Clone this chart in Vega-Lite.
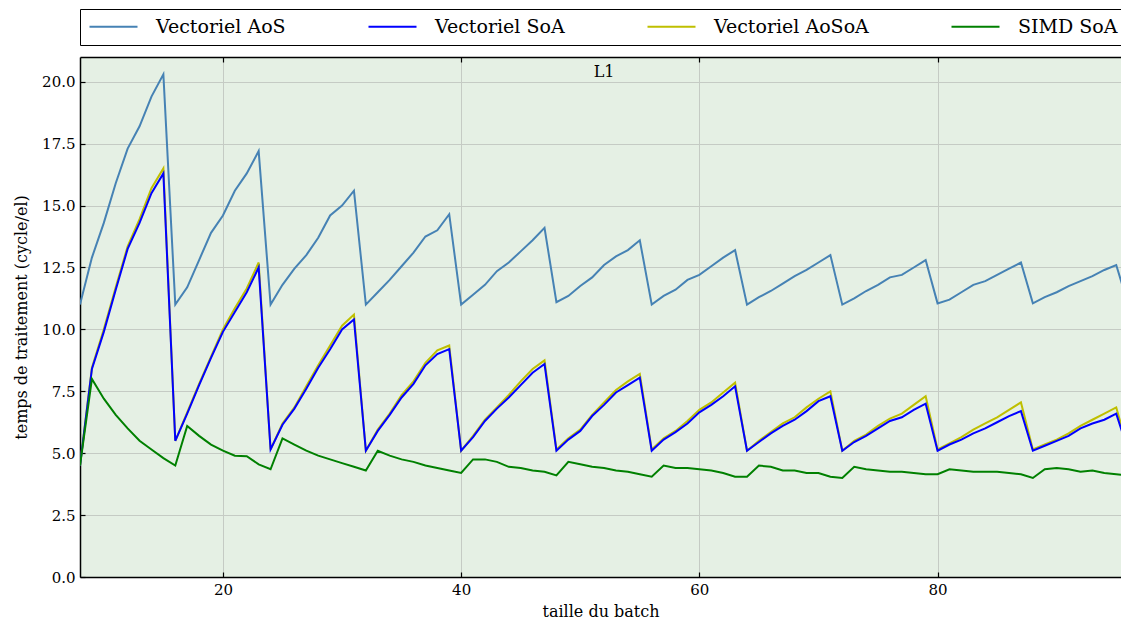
{
  "$schema": "https://vega.github.io/schema/vega-lite/v6.json",
  "width": 1041,
  "height": 520,
  "autosize": "none",
  "padding": {"left": 80, "top": 57, "right": 0, "bottom": 50},
  "background": "white",
  "config": {
    "view": {"stroke": null, "fill": "#e5f0e4"},
    "font": "DejaVu Serif",
    "axis": {
      "domainColor": "black", "domainWidth": 1.5,
      "tickColor": "black", "tickWidth": 1.2, "tickSize": -5,
      "gridColor": "#c5cbc4", "gridWidth": 1,
      "labelFont": "DejaVu Serif", "labelFontSize": 15, "labelColor": "black",
      "titleFont": "DejaVu Serif", "titleFontSize": 16, "titleFontWeight": "normal", "titleColor": "black"
    }
  },
  "datasets": {
    "d": [
      {"b":8,"Vectoriel AoS":11.0,"Vectoriel SoA":4.5,"Vectoriel AoSoA":4.5,"SIMD SoA":4.5},
      {"b":9,"Vectoriel AoS":12.9,"Vectoriel SoA":8.4,"Vectoriel AoSoA":8.45,"SIMD SoA":8.0},
      {"b":10,"Vectoriel AoS":14.3,"Vectoriel SoA":9.9,"Vectoriel AoSoA":10.0,"SIMD SoA":7.2},
      {"b":11,"Vectoriel AoS":15.9,"Vectoriel SoA":11.6,"Vectoriel AoSoA":11.7,"SIMD SoA":6.55},
      {"b":12,"Vectoriel AoS":17.3,"Vectoriel SoA":13.25,"Vectoriel AoSoA":13.35,"SIMD SoA":6.0},
      {"b":13,"Vectoriel AoS":18.2,"Vectoriel SoA":14.3,"Vectoriel AoSoA":14.45,"SIMD SoA":5.5},
      {"b":14,"Vectoriel AoS":19.4,"Vectoriel SoA":15.5,"Vectoriel AoSoA":15.7,"SIMD SoA":5.15},
      {"b":15,"Vectoriel AoS":20.3,"Vectoriel SoA":16.3,"Vectoriel AoSoA":16.5,"SIMD SoA":4.8},
      {"b":16,"Vectoriel AoS":11.0,"Vectoriel SoA":5.5,"Vectoriel AoSoA":5.5,"SIMD SoA":4.5},
      {"b":17,"Vectoriel AoS":11.7,"Vectoriel SoA":6.6,"Vectoriel AoSoA":6.65,"SIMD SoA":6.1},
      {"b":18,"Vectoriel AoS":12.8,"Vectoriel SoA":7.75,"Vectoriel AoSoA":7.8,"SIMD SoA":5.7},
      {"b":19,"Vectoriel AoS":13.9,"Vectoriel SoA":8.85,"Vectoriel AoSoA":8.9,"SIMD SoA":5.35},
      {"b":20,"Vectoriel AoS":14.6,"Vectoriel SoA":9.9,"Vectoriel AoSoA":10.0,"SIMD SoA":5.1},
      {"b":21,"Vectoriel AoS":15.6,"Vectoriel SoA":10.7,"Vectoriel AoSoA":10.85,"SIMD SoA":4.9},
      {"b":22,"Vectoriel AoS":16.3,"Vectoriel SoA":11.5,"Vectoriel AoSoA":11.65,"SIMD SoA":4.88},
      {"b":23,"Vectoriel AoS":17.2,"Vectoriel SoA":12.5,"Vectoriel AoSoA":12.7,"SIMD SoA":4.55},
      {"b":24,"Vectoriel AoS":11.0,"Vectoriel SoA":5.15,"Vectoriel AoSoA":5.15,"SIMD SoA":4.35},
      {"b":25,"Vectoriel AoS":11.8,"Vectoriel SoA":6.15,"Vectoriel AoSoA":6.2,"SIMD SoA":5.6},
      {"b":26,"Vectoriel AoS":12.45,"Vectoriel SoA":6.8,"Vectoriel AoSoA":6.85,"SIMD SoA":5.35},
      {"b":27,"Vectoriel AoS":13.0,"Vectoriel SoA":7.6,"Vectoriel AoSoA":7.7,"SIMD SoA":5.1},
      {"b":28,"Vectoriel AoS":13.7,"Vectoriel SoA":8.45,"Vectoriel AoSoA":8.55,"SIMD SoA":4.9},
      {"b":29,"Vectoriel AoS":14.6,"Vectoriel SoA":9.2,"Vectoriel AoSoA":9.35,"SIMD SoA":4.75},
      {"b":30,"Vectoriel AoS":15.0,"Vectoriel SoA":10.0,"Vectoriel AoSoA":10.15,"SIMD SoA":4.6},
      {"b":31,"Vectoriel AoS":15.6,"Vectoriel SoA":10.4,"Vectoriel AoSoA":10.6,"SIMD SoA":4.45},
      {"b":32,"Vectoriel AoS":11.0,"Vectoriel SoA":5.1,"Vectoriel AoSoA":5.1,"SIMD SoA":4.3},
      {"b":33,"Vectoriel AoS":11.5,"Vectoriel SoA":5.9,"Vectoriel AoSoA":5.95,"SIMD SoA":5.1},
      {"b":34,"Vectoriel AoS":12.0,"Vectoriel SoA":6.55,"Vectoriel AoSoA":6.6,"SIMD SoA":4.9},
      {"b":35,"Vectoriel AoS":12.55,"Vectoriel SoA":7.25,"Vectoriel AoSoA":7.35,"SIMD SoA":4.75},
      {"b":36,"Vectoriel AoS":13.1,"Vectoriel SoA":7.8,"Vectoriel AoSoA":7.9,"SIMD SoA":4.65},
      {"b":37,"Vectoriel AoS":13.75,"Vectoriel SoA":8.55,"Vectoriel AoSoA":8.65,"SIMD SoA":4.5},
      {"b":38,"Vectoriel AoS":14.0,"Vectoriel SoA":9.0,"Vectoriel AoSoA":9.15,"SIMD SoA":4.4},
      {"b":39,"Vectoriel AoS":14.65,"Vectoriel SoA":9.2,"Vectoriel AoSoA":9.35,"SIMD SoA":4.3},
      {"b":40,"Vectoriel AoS":11.0,"Vectoriel SoA":5.1,"Vectoriel AoSoA":5.1,"SIMD SoA":4.2},
      {"b":41,"Vectoriel AoS":11.4,"Vectoriel SoA":5.65,"Vectoriel AoSoA":5.7,"SIMD SoA":4.75},
      {"b":42,"Vectoriel AoS":11.8,"Vectoriel SoA":6.3,"Vectoriel AoSoA":6.35,"SIMD SoA":4.75},
      {"b":43,"Vectoriel AoS":12.35,"Vectoriel SoA":6.8,"Vectoriel AoSoA":6.85,"SIMD SoA":4.65},
      {"b":44,"Vectoriel AoS":12.7,"Vectoriel SoA":7.25,"Vectoriel AoSoA":7.35,"SIMD SoA":4.45},
      {"b":45,"Vectoriel AoS":13.15,"Vectoriel SoA":7.75,"Vectoriel AoSoA":7.9,"SIMD SoA":4.4},
      {"b":46,"Vectoriel AoS":13.6,"Vectoriel SoA":8.25,"Vectoriel AoSoA":8.4,"SIMD SoA":4.3},
      {"b":47,"Vectoriel AoS":14.1,"Vectoriel SoA":8.6,"Vectoriel AoSoA":8.75,"SIMD SoA":4.25},
      {"b":48,"Vectoriel AoS":11.1,"Vectoriel SoA":5.1,"Vectoriel AoSoA":5.15,"SIMD SoA":4.1},
      {"b":49,"Vectoriel AoS":11.35,"Vectoriel SoA":5.55,"Vectoriel AoSoA":5.6,"SIMD SoA":4.65},
      {"b":50,"Vectoriel AoS":11.75,"Vectoriel SoA":5.9,"Vectoriel AoSoA":5.95,"SIMD SoA":4.55},
      {"b":51,"Vectoriel AoS":12.1,"Vectoriel SoA":6.5,"Vectoriel AoSoA":6.55,"SIMD SoA":4.45},
      {"b":52,"Vectoriel AoS":12.6,"Vectoriel SoA":6.95,"Vectoriel AoSoA":7.05,"SIMD SoA":4.4},
      {"b":53,"Vectoriel AoS":12.95,"Vectoriel SoA":7.45,"Vectoriel AoSoA":7.55,"SIMD SoA":4.3},
      {"b":54,"Vectoriel AoS":13.2,"Vectoriel SoA":7.75,"Vectoriel AoSoA":7.9,"SIMD SoA":4.25},
      {"b":55,"Vectoriel AoS":13.6,"Vectoriel SoA":8.05,"Vectoriel AoSoA":8.2,"SIMD SoA":4.15},
      {"b":56,"Vectoriel AoS":11.0,"Vectoriel SoA":5.1,"Vectoriel AoSoA":5.15,"SIMD SoA":4.05},
      {"b":57,"Vectoriel AoS":11.35,"Vectoriel SoA":5.55,"Vectoriel AoSoA":5.6,"SIMD SoA":4.5},
      {"b":58,"Vectoriel AoS":11.6,"Vectoriel SoA":5.85,"Vectoriel AoSoA":5.9,"SIMD SoA":4.4},
      {"b":59,"Vectoriel AoS":12.0,"Vectoriel SoA":6.2,"Vectoriel AoSoA":6.3,"SIMD SoA":4.4},
      {"b":60,"Vectoriel AoS":12.2,"Vectoriel SoA":6.65,"Vectoriel AoSoA":6.75,"SIMD SoA":4.35},
      {"b":61,"Vectoriel AoS":12.55,"Vectoriel SoA":6.95,"Vectoriel AoSoA":7.05,"SIMD SoA":4.3},
      {"b":62,"Vectoriel AoS":12.9,"Vectoriel SoA":7.3,"Vectoriel AoSoA":7.45,"SIMD SoA":4.2},
      {"b":63,"Vectoriel AoS":13.2,"Vectoriel SoA":7.7,"Vectoriel AoSoA":7.85,"SIMD SoA":4.05},
      {"b":64,"Vectoriel AoS":11.0,"Vectoriel SoA":5.1,"Vectoriel AoSoA":5.1,"SIMD SoA":4.05},
      {"b":65,"Vectoriel AoS":11.3,"Vectoriel SoA":5.45,"Vectoriel AoSoA":5.5,"SIMD SoA":4.5},
      {"b":66,"Vectoriel AoS":11.55,"Vectoriel SoA":5.8,"Vectoriel AoSoA":5.85,"SIMD SoA":4.45},
      {"b":67,"Vectoriel AoS":11.85,"Vectoriel SoA":6.1,"Vectoriel AoSoA":6.2,"SIMD SoA":4.3},
      {"b":68,"Vectoriel AoS":12.15,"Vectoriel SoA":6.35,"Vectoriel AoSoA":6.45,"SIMD SoA":4.3},
      {"b":69,"Vectoriel AoS":12.4,"Vectoriel SoA":6.7,"Vectoriel AoSoA":6.85,"SIMD SoA":4.2},
      {"b":70,"Vectoriel AoS":12.7,"Vectoriel SoA":7.1,"Vectoriel AoSoA":7.2,"SIMD SoA":4.2},
      {"b":71,"Vectoriel AoS":13.0,"Vectoriel SoA":7.3,"Vectoriel AoSoA":7.5,"SIMD SoA":4.05},
      {"b":72,"Vectoriel AoS":11.0,"Vectoriel SoA":5.1,"Vectoriel AoSoA":5.1,"SIMD SoA":4.0},
      {"b":73,"Vectoriel AoS":11.25,"Vectoriel SoA":5.45,"Vectoriel AoSoA":5.5,"SIMD SoA":4.45},
      {"b":74,"Vectoriel AoS":11.55,"Vectoriel SoA":5.7,"Vectoriel AoSoA":5.75,"SIMD SoA":4.35},
      {"b":75,"Vectoriel AoS":11.8,"Vectoriel SoA":6.0,"Vectoriel AoSoA":6.1,"SIMD SoA":4.3},
      {"b":76,"Vectoriel AoS":12.1,"Vectoriel SoA":6.3,"Vectoriel AoSoA":6.4,"SIMD SoA":4.25},
      {"b":77,"Vectoriel AoS":12.2,"Vectoriel SoA":6.45,"Vectoriel AoSoA":6.6,"SIMD SoA":4.25},
      {"b":78,"Vectoriel AoS":12.5,"Vectoriel SoA":6.75,"Vectoriel AoSoA":6.95,"SIMD SoA":4.2},
      {"b":79,"Vectoriel AoS":12.8,"Vectoriel SoA":7.0,"Vectoriel AoSoA":7.3,"SIMD SoA":4.15},
      {"b":80,"Vectoriel AoS":11.05,"Vectoriel SoA":5.1,"Vectoriel AoSoA":5.15,"SIMD SoA":4.15},
      {"b":81,"Vectoriel AoS":11.2,"Vectoriel SoA":5.35,"Vectoriel AoSoA":5.4,"SIMD SoA":4.35},
      {"b":82,"Vectoriel AoS":11.5,"Vectoriel SoA":5.55,"Vectoriel AoSoA":5.65,"SIMD SoA":4.3},
      {"b":83,"Vectoriel AoS":11.8,"Vectoriel SoA":5.8,"Vectoriel AoSoA":5.95,"SIMD SoA":4.25},
      {"b":84,"Vectoriel AoS":11.95,"Vectoriel SoA":6.0,"Vectoriel AoSoA":6.2,"SIMD SoA":4.25},
      {"b":85,"Vectoriel AoS":12.2,"Vectoriel SoA":6.25,"Vectoriel AoSoA":6.45,"SIMD SoA":4.25},
      {"b":86,"Vectoriel AoS":12.45,"Vectoriel SoA":6.5,"Vectoriel AoSoA":6.75,"SIMD SoA":4.2},
      {"b":87,"Vectoriel AoS":12.7,"Vectoriel SoA":6.7,"Vectoriel AoSoA":7.05,"SIMD SoA":4.15},
      {"b":88,"Vectoriel AoS":11.05,"Vectoriel SoA":5.1,"Vectoriel AoSoA":5.15,"SIMD SoA":4.0},
      {"b":89,"Vectoriel AoS":11.3,"Vectoriel SoA":5.3,"Vectoriel AoSoA":5.35,"SIMD SoA":4.35},
      {"b":90,"Vectoriel AoS":11.5,"Vectoriel SoA":5.5,"Vectoriel AoSoA":5.55,"SIMD SoA":4.4},
      {"b":91,"Vectoriel AoS":11.75,"Vectoriel SoA":5.7,"Vectoriel AoSoA":5.8,"SIMD SoA":4.35},
      {"b":92,"Vectoriel AoS":11.95,"Vectoriel SoA":6.0,"Vectoriel AoSoA":6.1,"SIMD SoA":4.25},
      {"b":93,"Vectoriel AoS":12.15,"Vectoriel SoA":6.2,"Vectoriel AoSoA":6.35,"SIMD SoA":4.3},
      {"b":94,"Vectoriel AoS":12.4,"Vectoriel SoA":6.35,"Vectoriel AoSoA":6.6,"SIMD SoA":4.2},
      {"b":95,"Vectoriel AoS":12.6,"Vectoriel SoA":6.6,"Vectoriel AoSoA":6.85,"SIMD SoA":4.15},
      {"b":96,"Vectoriel AoS":11.0,"Vectoriel SoA":5.1,"Vectoriel AoSoA":5.15,"SIMD SoA":4.1}
    ]
  },
  "layer": [
    {
      "data": {"name": "d"},
      "transform": [
        {"fold": ["Vectoriel AoS", "Vectoriel AoSoA", "Vectoriel SoA", "SIMD SoA"], "as": ["serie", "v"]}
      ],
      "mark": {"type": "line", "strokeWidth": 2, "clip": true},
      "encoding": {
        "x": {
          "field": "b", "type": "quantitative",
          "scale": {"domain": [8, 95.4], "nice": false, "zero": false},
          "axis": {"title": "taille du batch", "values": [20, 40, 60, 80], "format": "d", "grid": true, "labelPadding": 10, "titlePadding": 6}
        },
        "y": {
          "field": "v", "type": "quantitative",
          "scale": {"domain": [0, 21], "nice": false},
          "axis": {"title": "temps de traitement (cycle/el)", "values": [0, 2.5, 5, 7.5, 10, 12.5, 15, 17.5, 20], "format": ".1f", "grid": true, "labelPadding": 10, "titlePadding": 12}
        },
        "color": {
          "field": "serie", "type": "nominal",
          "scale": {
            "domain": ["Vectoriel AoS", "Vectoriel SoA", "Vectoriel AoSoA", "SIMD SoA"],
            "range": ["#4682b4", "#0000ff", "#bfbf00", "#008000"]
          },
          "legend": {
            "title": null, "orient": "top", "direction": "horizontal", "columns": 4,
            "symbolType": "M-1,0H5", "symbolSize": 256, "symbolStrokeWidth": 2.2,
            "labelFont": "DejaVu Serif", "labelFontSize": 19, "labelColor": "black",
            "labelOffset": 49, "columnPadding": 78, "padding": 8,
            "strokeColor": "black", "fillColor": "white", "cornerRadius": 0, "offset": 11
          }
        }
      }
    },
    {
      "data": {"values": [{"t": "L1"}]},
      "mark": {"type": "text", "fontSize": 16, "font": "DejaVu Serif", "color": "black", "baseline": "middle"},
      "encoding": {
        "text": {"field": "t"},
        "x": {"datum": 52, "type": "quantitative", "axis": {"orient": "top", "labels": false, "title": null, "values": [20, 40, 60, 80], "grid": false}},
        "y": {"datum": 20.4, "type": "quantitative"}
      }
    }
  ],
  "resolve": {"axis": {"x": "independent"}}
}
